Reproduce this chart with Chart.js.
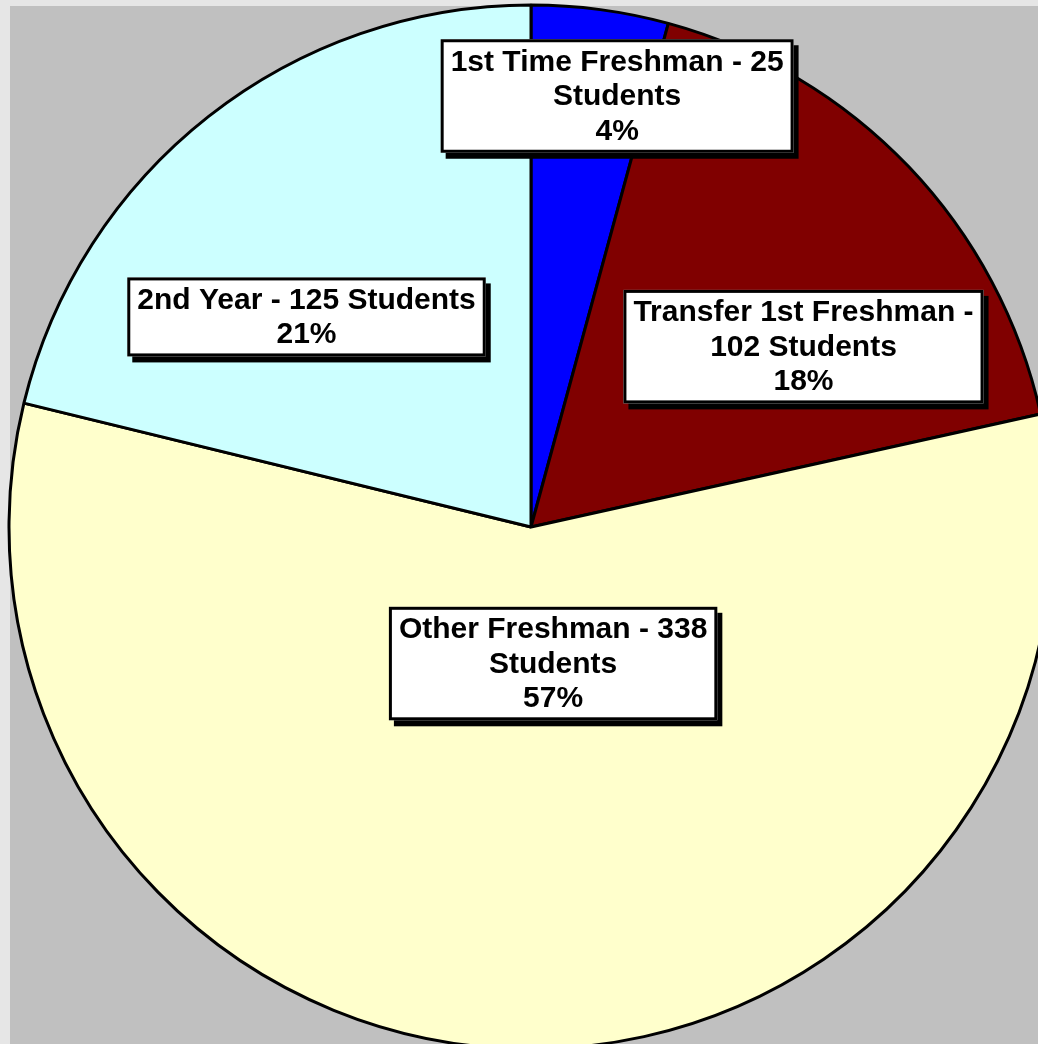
<!DOCTYPE html>
<html lang="en">

<head>
    <meta charset="UTF-8">
    <title>Students pie</title>
    <script src="https://cdn.jsdelivr.net/npm/chart.js"></script>
    <style>
        body {
            margin: 0;
            width: 1038px;
            height: 1044px;
            overflow: hidden;
            background-color: #e6e6e6;
            position: relative;
        }
        .plot-bg {
            position: absolute;
            left: 10px;
            top: 6px;
            right: 0;
            bottom: 0;
            background-color: #c0c0c0;
        }
        .chart-box {
            position: absolute;
            left: 0;
            top: 0;
        }
    </style>
</head>

<body>
    <div class="plot-bg"></div>
    <div class="chart-box">
        <canvas id="myChart" width="1062" height="1054"></canvas>
    </div>

    <script>
        // slices, clockwise from the top
        var categories = ['1st Time Freshman', 'Transfer 1st Freshman', 'Other Freshman', '2nd Year'];
        var students = [25, 102, 338, 125];
        var percents = ['4%', '18%', '57%', '21%'];
        var sliceColors = ['#0000ff', '#800000', '#ffffcc', '#ccffff'];

        // label text lines as wrapped in the picture
        var labelLines = [
            ['1st Time Freshman - 25', 'Students', '4%'],
            ['Transfer 1st Freshman -', '102 Students', '18%'],
            ['Other Freshman - 338', 'Students', '57%'],
            ['2nd Year - 125 Students', '21%']
        ];
        // where each label box sits: angle (deg, clockwise from top) and share of radius
        var labelAngle = [11.3, 56.5, 170.8, 313.1];
        var labelDist = [0.842, 0.626, 0.265, 0.589];

        // white boxes with a black drop shadow
        var boxLabels = {
            id: 'boxLabels',
            afterDatasetsDraw: function (chart) {
                var ctx = chart.ctx;
                var arcs = chart.getDatasetMeta(0).data;
                var lh = 34.5, padX = 10, padY = 5;
                ctx.save();
                ctx.font = 'bold 30px "Liberation Sans", Arial, sans-serif';
                ctx.textAlign = 'center';
                ctx.textBaseline = 'middle';
                arcs.forEach(function (arc, i) {
                    var a = labelAngle[i] * Math.PI / 180;
                    var cx = arc.x + Math.sin(a) * arc.outerRadius * labelDist[i];
                    var cy = arc.y - Math.cos(a) * arc.outerRadius * labelDist[i];
                    var lines = labelLines[i];
                    var w = 0;
                    lines.forEach(function (t) { w = Math.max(w, ctx.measureText(t).width); });
                    w += padX * 2;
                    var h = lines.length * lh + padY * 2;
                    var x = cx - w / 2, y = cy - h / 2;
                    ctx.fillStyle = '#000';
                    ctx.fillRect(x + 5, y + 6, w, h);
                    ctx.fillStyle = '#fff';
                    ctx.fillRect(x, y, w, h);
                    ctx.lineWidth = 3;
                    ctx.strokeStyle = '#000';
                    ctx.strokeRect(x + 1.5, y + 1.5, w - 3, h - 3);
                    ctx.fillStyle = '#000';
                    lines.forEach(function (t, j) {
                        ctx.fillText(t, cx, y + padY + lh * (j + 0.5) + 1);
                    });
                });
                ctx.restore();
            }
        };

        var ctx = document.getElementById('myChart').getContext('2d');
        var myChart = new Chart(ctx, {
            type: 'pie',
            data: {
                labels: categories,
                datasets: [{
                    data: students,
                    backgroundColor: sliceColors,
                    borderColor: '#000',
                    borderWidth: 3,
                    radius: 522
                }]
            },
            options: {
                responsive: false,
                animation: false,
                plugins: {
                    legend: { display: false },
                    tooltip: { enabled: false }
                }
            },
            plugins: [boxLabels]
        });
    </script>
</body>

</html>
